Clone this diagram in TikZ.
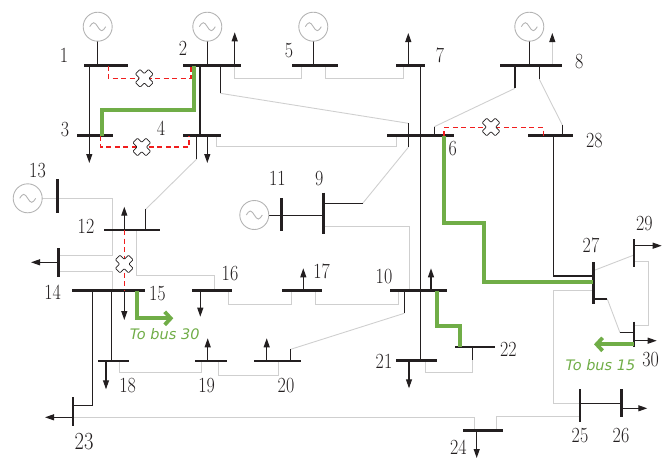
\documentclass[tikz,border=0pt]{standalone}
\usepackage{fontspec}
\usepackage{graphicx}
\usetikzlibrary{arrows.meta}
\newfontfamily\annfont{DejaVu Sans}
\definecolor{bk}{HTML}{231F20}
\definecolor{gr}{HTML}{CFCFCF}
\definecolor{gc}{HTML}{B4B4B4}
\definecolor{gn}{HTML}{70AD47}
\definecolor{rd}{HTML}{F01E1E}
\newcommand\numlbl[1]{\scalebox{1}[1.2]{#1}}
\newcommand\gen[2]{%
  \draw[genc] (#1,#2) circle[radius=14.5];
  \draw[genc] (#1-8,#2) sin (#1-4,#2-4) cos (#1,#2) sin (#1+4,#2+4) cos (#1+8,#2);}
\newcommand\brk[2]{%
  \begin{scope}[shift={(#1,#2)},rotate=45]
  \draw[fill=white,draw=bk,line width=0.7pt,rounded corners=0.8pt]
   (3.3,9.3)--(3.3,3.3)--(9.3,3.3)--(9.3,-3.3)--(3.3,-3.3)--(3.3,-9.3)--(-3.3,-9.3)--(-3.3,-3.3)
   --(-9.3,-3.3)--(-9.3,3.3)--(-3.3,3.3)--(-3.3,9.3)--cycle;
  \end{scope}}
\begin{document}
\begin{tikzpicture}[x=1pt,y=-1pt,
 busln/.style={line width=2.8pt,draw=bk},
 blk/.style={line width=1.1pt,draw=bk},
 gry/.style={line width=0.9pt,draw=gr},
 grn/.style={line width=3.8pt,draw=gn},
 rdd/.style={line width=1.5pt,draw=rd,dash pattern=on 5pt off 3.5pt},
 ld/.style={blk,-{Triangle[length=9pt,width=6pt]}},
 gtip/.style={-{Straight Barb[length=6pt,width=13pt]}},
 num/.style={font=\fontsize{18}{20}\selectfont,text=bk,inner sep=0pt},
 ann/.style={font=\annfont\itshape\fontsize{14.5}{16}\selectfont,text=gn,inner sep=0pt},
 genc/.style={line width=0.9pt,draw=gc}]
\useasboundingbox (0,0) rectangle (667,459);

% ---------- gray lines ----------
\draw[gry] (234.7,65.7)--(234.7,78)--(301.7,78)--(301.7,65.7);
\draw[gry] (325.3,65.7)--(325.3,78)--(403.3,78)--(403.3,65.7);
\draw[gry] (216.7,135.7)--(216.7,146.7)--(396.7,146.7)--(396.7,135.7);
\draw[gry] (220.3,93.3)--(408.3,123.3);
\draw[gry] (196.7,159)--(145.7,209.3);
\draw[gry] (434.3,126.7)--(515,88.3);
\draw[gry] (539.3,79.3)--(562.3,125);
\draw[gry] (362.7,203.3)--(408.3,147.3);
\draw[gry] (42.2,198.3)--(112.3,198.3)--(112.3,255)--(58.3,255);
\draw[gry] (58.3,271)--(112.3,271)--(112.3,290.7);
\draw[gry] (136.7,230)--(136.7,275)--(214.3,275)--(214.3,290.7);
\draw[gry] (228.3,290.7)--(228.3,304)--(291.7,304)--(291.7,290.7);
\draw[gry] (315,290.7)--(315,304)--(398.3,304)--(398.3,290.7);
\draw[gry] (323.3,226)--(409.3,226)--(409.3,290.7);
\draw[gry] (404.3,313.3)--(290.7,349.3);
\draw[gry] (119.3,361)--(119.3,372.7)--(201,372.7)--(201,361);
\draw[gry] (218.3,361)--(218.3,375)--(278.3,375)--(278.3,361);
\draw[gry] (472.3,360)--(472.3,372.7)--(425.7,372.7)--(425.7,360.7);
\draw[gry] (73,417.3)--(474.3,417.3)--(474.3,430.7);
\draw[gry] (496.7,430.7)--(496.7,416.7)--(580,416.7);
\draw[gry] (580,403.3)--(553.3,403.3)--(553.3,290.7)--(593.3,290.7);
\draw[gry] (593.3,270.7)--(634,255);
\draw[gry] (634,261)--(648.3,261)--(648.3,325)--(634,325);
\draw[gry] (607.3,299)--(620,332.7);

% ---------- black lines ----------
\draw[blk] (89.3,65.7)--(89.3,135.7);
\draw[blk] (200,65.7)--(200,135.7);
\draw[blk] (220.3,65.7)--(220.3,93.3);
\draw[blk] (408.3,123.3)--(408.3,147.3);
\draw[blk] (196.7,135.7)--(196.7,159);
\draw[blk] (145.7,209.3)--(145.7,230);
\draw[blk] (420.7,65.7)--(420.7,360.7);
\draw[blk] (434.3,126.7)--(434.3,135.7);
\draw[blk] (515,65.7)--(515,88.3);
\draw[blk] (539.3,65.7)--(539.3,79.3);
\draw[blk] (562.3,125)--(562.3,135.7);
\draw[blk] (553.3,135.7)--(553.3,276)--(593.3,276);
\draw[blk] (323.3,203.3)--(362.7,203.3);
\draw[blk] (268.8,215.3)--(323.3,215.3);
\draw[blk] (92.3,290.7)--(92.3,405.3)--(73,405.3);
\draw[blk] (111.7,290.7)--(111.7,361);
\draw[blk] (404.3,290.7)--(404.3,313.3);
\draw[blk] (290.7,349.3)--(290.7,361);
\draw[blk] (472.3,347)--(472.3,360);
\draw[blk] (580,403.3)--(621.3,403.3);
\draw[blk] (593.3,299)--(607.3,299);
\draw[blk] (620,332.7)--(634,332.7);
% generator stems
\draw[blk] (97.7,41.2)--(97.7,65.7);
\draw[blk] (207.3,41.2)--(207.3,65.7);
\draw[blk] (313.3,41.2)--(313.3,65.7);
\draw[blk] (529.3,41.2)--(529.3,65.7);

% ---------- loads ----------
\draw[ld] (234.7,65.7)--(234.7,32.3);
\draw[ld] (408.3,65.7)--(408.3,33);
\draw[gry,-{Triangle[length=9pt,width=6pt,color=bk]}] (552.3,65.7)--(552.3,33);
\draw[ld] (89.3,135.7)--(89.3,163);
\draw[ld] (207.3,135.7)--(207.3,163);
\draw[ld] (124.3,230)--(124.3,206.7);
\draw[ld] (58.3,262.3)--(31,262.3);
\draw[ld] (124.3,290.7)--(124.3,320);
\draw[ld] (200.3,290.7)--(200.3,316.7);
\draw[ld] (303.3,290.7)--(303.3,268.3);
\draw[ld] (431,290.7)--(431,268.3);
\draw[ld] (106,361)--(106,389.3);
\draw[ld] (207.7,361)--(207.7,338.3);
\draw[ld] (266.7,361)--(266.7,338.3);
\draw[ld] (409,360.7)--(409,388.3);
\draw[ld] (73,417.3)--(45,417.3);
\draw[ld] (476.7,430.7)--(476.7,458);
\draw[ld] (621.3,408.3)--(647.3,408.3);
\draw[ld] (634,245.7)--(661.7,245.7);
\draw[ld] (634,340.7)--(656.7,340.7);

% ---------- generators ----------
\gen{97.7}{26.7}
\gen{207.3}{26.7}
\gen{313.3}{26.7}
\gen{529.3}{26.7}
\gen{27.7}{198.3}
\gen{254.3}{215}

% ---------- buses ----------
\draw[busln] (84,65.7)--(127.7,65.7);
\draw[busln] (183.3,65.7)--(240.7,65.7);
\draw[busln] (292.3,65.7)--(337.7,65.7);
\draw[busln] (396,65.7)--(425,65.7);
\draw[busln] (500.3,65.7)--(561.7,65.7);
\draw[busln] (77.3,135.7)--(112.7,135.7);
\draw[busln] (183.3,135.7)--(220.7,135.7);
\draw[busln] (387.3,135.7)--(454,135.7);
\draw[busln] (528.3,135.7)--(573.3,135.7);
\draw[busln] (104.3,230)--(160,230);
\draw[busln] (72.3,290.7)--(145,290.7);
\draw[busln] (192.3,290.7)--(232.3,290.7);
\draw[busln] (282.3,290.7)--(322.3,290.7);
\draw[busln] (390,290.7)--(446.7,290.7);
\draw[busln] (455,347)--(495,347);
\draw[busln] (396,360.7)--(436.7,360.7);
\draw[busln] (98.3,361)--(129,361);
\draw[busln] (195,361)--(226.7,361);
\draw[busln] (254,361)--(300.7,361);
\draw[busln] (463.3,430.7)--(503.3,430.7);
\draw[busln] (57.7,179)--(57.7,213.3);
\draw[busln] (58.3,248.3)--(58.3,276.7);
\draw[busln] (281.7,198.3)--(281.7,231.3);
\draw[busln] (323.3,192.7)--(323.3,234.3);
\draw[busln] (593.3,262.3)--(593.3,304.3);
\draw[busln] (634,239.3)--(634,267.3);
\draw[busln] (634,321.7)--(634,346.7);
\draw[busln] (580,389.3)--(580,422.3);
\draw[busln] (621.3,389.3)--(621.3,417.3);
\draw[busln] (73,397.3)--(73,425.7);

% ---------- open lines (red dashed) ----------
\draw[rdd] (108.3,65.7)--(108.3,78.3)--(191,78.3)--(191,65.7);
\draw[rdd] (100.7,135.7)--(100.7,147)--(189,147)--(189,135.7);
\draw[rdd] (444,135.7)--(444,127.5)--(543.3,127.5)--(543.3,135.7);
\draw[rdd] (124.3,230)--(124.3,290.7);

% ---------- added lines (green) ----------
\draw[grn] (194.3,65.7)--(194.3,110)--(101.7,110)--(101.7,135.7);
\draw[grn] (444,135.7)--(444,223.3)--(484,223.3)--(484,281.7)--(593.3,281.7);
\draw[grn] (436.7,290.7)--(436.7,325.7)--(460,325.7)--(460,347);
\draw[grn,gtip] (136.7,290.7)--(136.7,318.3)--(173.3,318.3);
\draw[grn,gtip] (634,344.3)--(594,344.3);

% ---------- breakers ----------
\brk{144.3}{78.3}
\brk{141.7}{147}
\brk{491}{127}
\brk{124.3}{264}

% ---------- labels ----------
\node[num] (l1) at (64,55) {\numlbl{1}};
\node[num] (l2) at (183,48) {\numlbl{2}};
\node[num] (l5) at (289,50.7) {\numlbl{5}};
\node[num] (l7) at (440,55) {\numlbl{7}};
\node[num] (l8) at (579.3,61.7) {\numlbl{8}};
\node[num] (l3) at (65,130) {\numlbl{3}};
\node[num] (l4) at (161,128) {\numlbl{4}};
\node[num] (l6) at (452.7,148.3) {\numlbl{6}};
\node[num] (l28) at (594.3,141) {\numlbl{28}};
\node[num] (l13) at (37.5,170.5) {\numlbl{13}};
\node[num] (l12) at (86,226.7) {\numlbl{12}};
\node[num] (l11) at (277.3,178.3) {\numlbl{11}};
\node[num] (l9) at (319.3,178.3) {\numlbl{9}};
\node[num] (l14) at (52.7,292.3) {\numlbl{14}};
\node[num] (l15) at (157.3,293.3) {\numlbl{15}};
\node[num] (l16) at (230,273.3) {\numlbl{16}};
\node[num] (l17) at (321.7,271.7) {\numlbl{17}};
\node[num] (l10) at (384,276.7) {\numlbl{10}};
\node[num] (l27) at (591,245) {\numlbl{27}};
\node[num] (l29) at (644.3,223.3) {\numlbl{29}};
\node[num] (l21) at (384,361.7) {\numlbl{21}};
\node[num] (l22) at (508.3,349.3) {\numlbl{22}};
\node[num] (l18) at (127.7,386) {\numlbl{18}};
\node[num] (l19) at (206.7,386) {\numlbl{19}};
\node[num] (l20) at (286,386) {\numlbl{20}};
\node[num,font=\fontsize{20.5}{22}\selectfont] (l23) at (84,441.7) {\numlbl{23}};
\node[num] (l24) at (458.3,447.5) {\numlbl{24}};
\node[num] (l25) at (580,435.7) {\numlbl{25}};
\node[num] (l26) at (621,436) {\numlbl{26}};
\node[num] (l30) at (650.7,359.3) {\numlbl{30}};
\node[ann] (t30) at (164.7,334) {To bus 30};
\node[ann] (t15) at (600.5,365) {To bus 15};
\end{tikzpicture}
\end{document}
